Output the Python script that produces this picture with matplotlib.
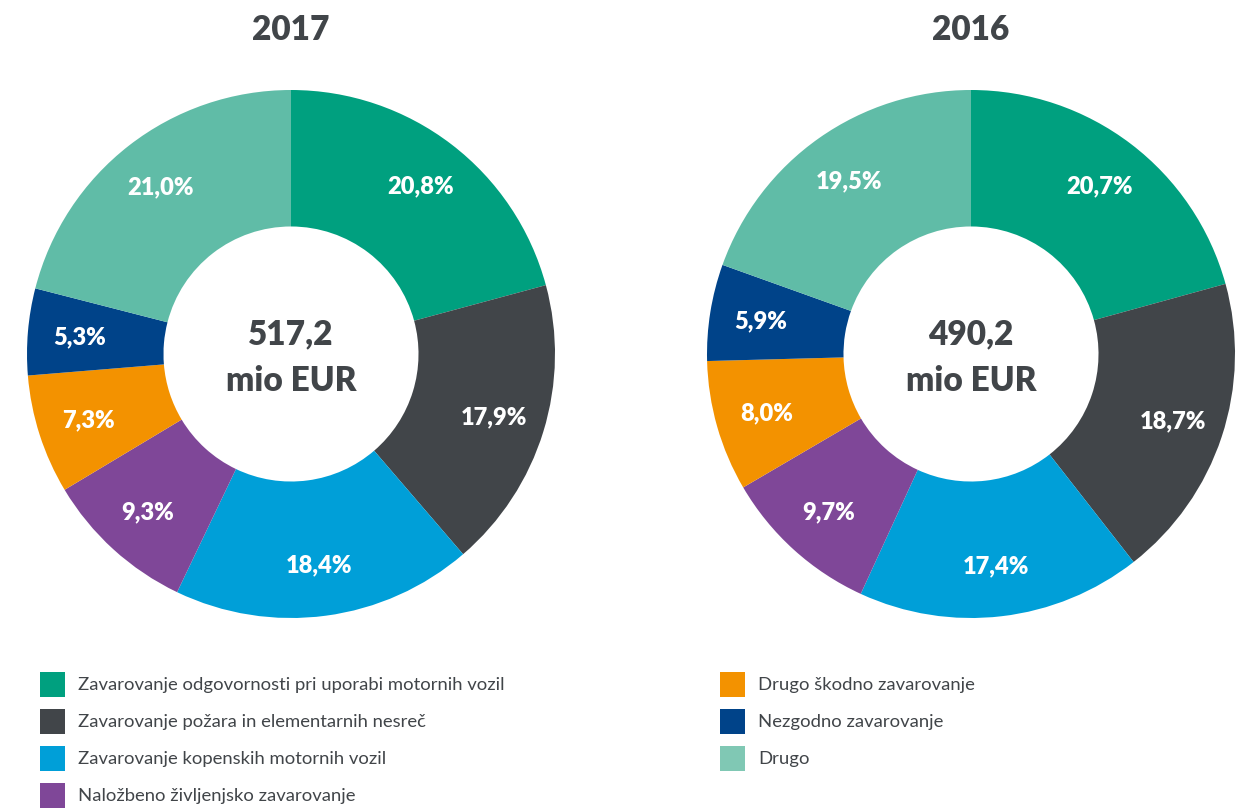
import matplotlib
matplotlib.use("Agg")
import matplotlib.pyplot as plt
from matplotlib.patches import Rectangle

plt.rcParams['font.family'] = ['Lato', 'DejaVu Sans']

categories = [
    "Zavarovanje odgovornosti pri uporabi motornih vozil",
    "Zavarovanje požara in elementarnih nesreč",
    "Zavarovanje kopenskih motornih vozil",
    "Naložbeno življenjsko zavarovanje",
    "Drugo škodno zavarovanje",
    "Nezgodno zavarovanje",
    "Drugo",
]
colors = ["#00A07F", "#414549", "#009FD8", "#7F4798", "#F39200", "#004389", "#60BCA7"]
legend_colors = ["#00A07F", "#414549", "#009FD8", "#7F4798", "#F39200", "#004389", "#80C8B4"]

years = ["2017", "2016"]
shares_2017 = [20.8, 17.9, 18.4, 9.3, 7.3, 5.3, 21.0]
shares_2016 = [20.7, 18.7, 17.4, 9.7, 8.0, 5.9, 19.5]
totals = ["517,2", "490,2"]

W, H = 1253, 812
fig = plt.figure(figsize=(W / 100, H / 100), dpi=100)
fig.patch.set_facecolor("white")

R = 264
centers = [(291, 355), (971, 355)]
text_color = "#414549"

for (cx, cy), year, shares, total in zip(centers, years, [shares_2017, shares_2016], totals):
    ax = fig.add_axes([(cx - R) / W, (H - cy - R) / H, 2 * R / W, 2 * R / H])
    wedges, texts = ax.pie(
        shares, colors=colors, startangle=90, counterclock=False,
        radius=1.0, wedgeprops=dict(width=0.517, linewidth=0),
        labels=[f"{v:.1f}".replace(".", ",") + "%" for v in shares],
        labeldistance=0.805,
        textprops=dict(color="white", fontsize=17, fontweight="heavy", ha="center", va="center"),
    )
    for t in texts:
        t.set_ha("center")
        t.set_va("center")
    ax.set_xlim(-1, 1)
    ax.set_ylim(-1, 1)
    ax.set_aspect("equal")
    ax.axis("off")
    ax.text(0, 0.08, total, ha="center", va="center", fontsize=24, fontweight="heavy", color=text_color)
    ax.text(0, -0.098, "mio EUR", ha="center", va="center", fontsize=24, fontweight="heavy", color=text_color)
    fig.text(cx / W, 1 - 30 / H, year, ha="center", va="center", fontsize=24,
             fontweight="heavy", color=text_color)

# legend
col_x = [40, 720]
row_y = [685, 722, 759, 796]
sw = 25
positions = [(0, 0), (0, 1), (0, 2), (0, 3), (1, 0), (1, 1), (1, 2)]
for cat, col, (c, r) in zip(categories, legend_colors, positions):
    x = col_x[c]
    y = row_y[r]
    fig.patches.append(Rectangle(((x) / W, (H - y - sw / 2) / H), sw / W, sw / H,
                                 transform=fig.transFigure, facecolor=col, edgecolor="none"))
    fig.text((x + 38) / W, (H - y) / H, cat, ha="left", va="center", fontsize=13.3,
             color=text_color)

fig.savefig("out.png", dpi=100, facecolor="white")
